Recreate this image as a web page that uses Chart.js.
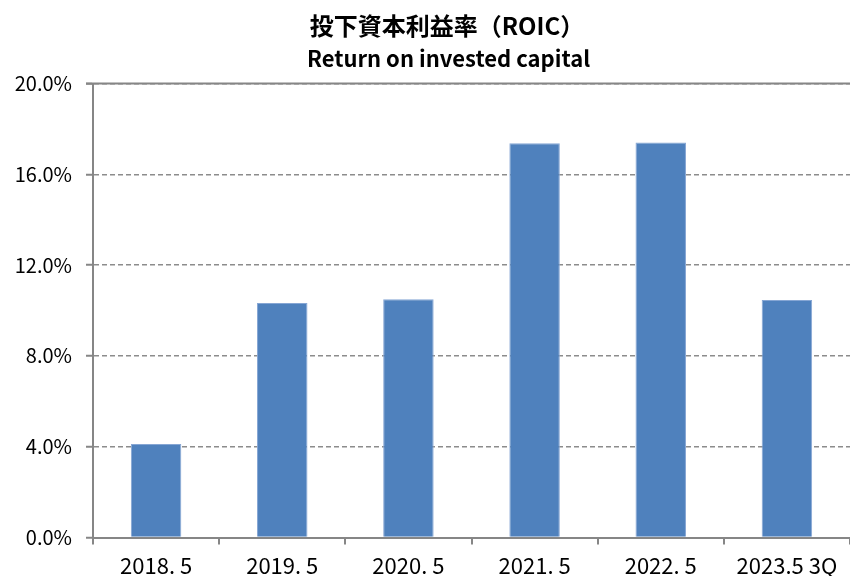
<!DOCTYPE html>
<html>
<head>
<meta charset="utf-8">
<script src="https://cdn.jsdelivr.net/npm/chart.js@4"></script>
<style>
html,body{margin:0;padding:0;background:#fff;}
#wrap{width:850px;height:576px;position:relative;}
</style>
</head>
<body>
<div id="wrap"><canvas id="c" width="850" height="576"></canvas></div>
<script>
const categories = ["2018. 5", "2019. 5", "2020. 5", "2021. 5", "2022. 5", "2023.5 3Q"];
const roicValues = [4.12, 10.33, 10.50, 17.37, 17.40, 10.46];
const titleText = "投下資本利益率（ROIC）";
const subtitleText = "Return on invested capital";

const fam = "'Noto Sans CJK JP', sans-serif";

const decor = {
  id: 'decor',
  afterDatasetsDraw(chart) {
    const {ctx, chartArea} = chart;
    ctx.save();
    ctx.strokeStyle = '#868686';
    ctx.lineWidth = 2;
    ctx.beginPath();
    ctx.moveTo(chartArea.left - 7, chartArea.top);
    ctx.lineTo(chartArea.right, chartArea.top);
    ctx.stroke();
    ctx.restore();
  },
  afterDraw(chart) {
    const {ctx} = chart;
    ctx.save();
    ctx.fillStyle = '#000';
    ctx.textAlign = 'center';
    ctx.textBaseline = 'middle';
    ctx.font = "bold 24px " + fam;
    ctx.fillText(titleText, 447, 25.5);
    ctx.textBaseline = 'alphabetic';
    ctx.font = "bold 22px " + fam;
    ctx.fillText(subtitleText, 448.5, 67);
    ctx.restore();
  }
};

new Chart(document.getElementById('c'), {
  type: 'bar',
  data: {
    labels: categories,
    datasets: [{
      data: roicValues,
      backgroundColor: '#4F81BD',
      borderColor: '#86A6D4',
      borderWidth: 1,
      categoryPercentage: 1,
      barPercentage: 0.4
    }]
  },
  options: {
    responsive: false,
    animation: false,
    layout: {padding: {left: 0, right: 0, top: 83.5, bottom: 0}},
    plugins: {
      legend: {display: false},
      tooltip: {enabled: false},
      title: {display: false}
    },
    scales: {
      x: {
        offset: true,
        afterFit(scale) { scale.height = 38.5; },
        grid: {display: true, drawOnChartArea: false, drawTicks: true, tickLength: 7, color: '#868686', lineWidth: 2, offset: true},
        border: {display: true, color: '#868686', width: 2},
        ticks: {color: '#000', font: {family: fam, size: 22, lineHeight: 1.0}, padding: 10, maxRotation: 0, autoSkip: false}
      },
      y: {
        min: 0, max: 20,
        afterFit(scale) { scale.width = 93; },
        grid: {color: '#8C8C8C', lineWidth: 1.5, drawTicks: true, tickLength: 7, tickColor: '#868686', tickWidth: 2},
        border: {display: true, color: '#868686', width: 2, dash: [5, 3]},
        ticks: {
          stepSize: 4,
          color: '#000',
          padding: 14,
          font: {family: fam, size: 20},
          callback: v => v.toFixed(1) + '%'
        }
      }
    }
  },
  plugins: [decor]
});
</script>
</body>
</html>
